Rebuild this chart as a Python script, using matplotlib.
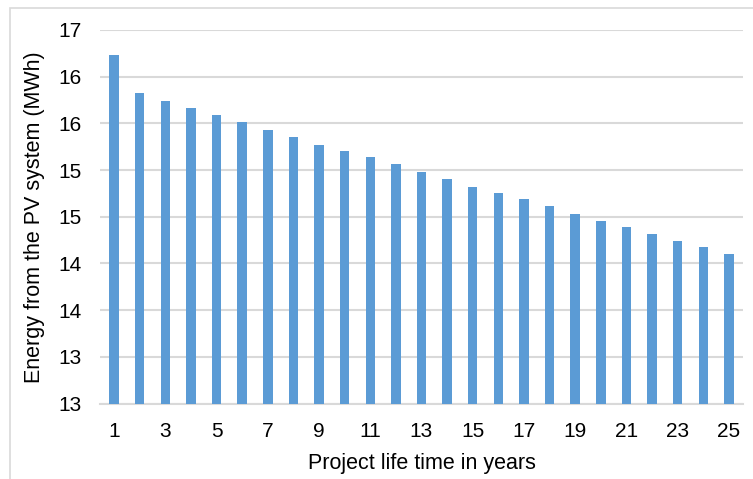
import matplotlib
matplotlib.use("Agg")
import matplotlib.pyplot as plt
from matplotlib.patches import Rectangle

# Dados
anos = list(range(1, 26))
energia = [16.53, 16.12, 16.04, 15.96, 15.89, 15.81, 15.73, 15.65, 15.57, 15.50,
           15.44, 15.36, 15.28, 15.20, 15.12, 15.05, 14.99, 14.91, 14.83, 14.75,
           14.69, 14.62, 14.54, 14.48, 14.40]
y_ticks = [12.8, 13.3, 13.8, 14.3, 14.8, 15.3, 15.8, 16.3, 16.8]
x_ticks = list(range(1, 26, 2))

plt.rcParams["font.family"] = ["Liberation Sans", "DejaVu Sans"]

fig = plt.figure(figsize=(7.53, 4.79), dpi=100)
ax = fig.add_axes([0.1328, 0.1576, 0.8539, 0.7798])

# moldura externa do gráfico
fig.patches.append(Rectangle((10 / 753, -0.01), 1.0, 1 - 8 / 479 + 0.01,
                             transform=fig.transFigure, fill=False,
                             edgecolor="#D9D9D9", linewidth=1.2))

ax.bar(anos, energia, width=0.37, color="#5B9BD5", zorder=3)

ax.set_xlim(0.45, 25.55)
ax.set_ylim(12.8, 16.8)
ax.set_yticks(y_ticks)
ax.set_yticklabels([f"{v:.0f}" for v in y_ticks])
ax.set_xticks(x_ticks)
ax.set_xticklabels([str(v) for v in x_ticks])

ax.grid(axis="y", color="#D9D9D9", linewidth=1.5, zorder=0)
for lado in ["top", "right", "left"]:
    ax.spines[lado].set_visible(False)
ax.spines["bottom"].set_color("#D9D9D9")
ax.spines["bottom"].set_linewidth(1.5)

ax.tick_params(axis="both", length=0, labelsize=15, colors="#000000")
ax.tick_params(axis="y", pad=13)
ax.tick_params(axis="x", pad=13)

ax.set_xlabel("Project life time in years", fontsize=15.5, labelpad=9)
ax.set_ylabel("Energy from the PV system (MWh)", fontsize=15.5, labelpad=10)

fig.savefig("out.png", dpi=100)
